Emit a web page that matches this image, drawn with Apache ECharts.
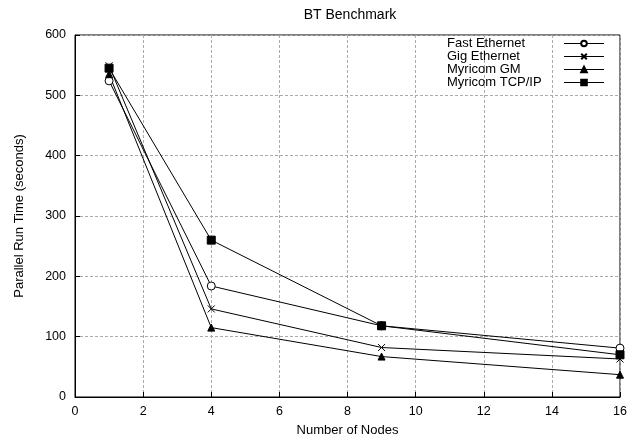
<!DOCTYPE html>
<html><head><meta charset="utf-8">
<script src="https://cdn.jsdelivr.net/npm/echarts@6/dist/echarts.min.js"></script>
<style>html,body{margin:0;padding:0;background:#fff}#c{width:639px;height:442px}</style>
</head><body><div id="c"></div>
<script>
const nodes = [1, 4, 9, 16];
const fastEthernet = [524, 184, 118, 81];
const gigEthernet = [549, 146, 82, 63];
const myricomGM = [535, 115, 67, 37];
const myricomTCP = [545, 260, 118, 70];
const xTicks = [0, 2, 4, 6, 8, 10, 12, 14, 16];
const yTicks = [0, 100, 200, 300, 400, 500, 600];

const FONT = 'Liberation Sans';
const crossPath = 'path://M0,0L10,10M10,0L0,10';
function mk(name, vals, symbol, size, fill) {
  return {
    name, type: 'line', data: nodes.map((n, i) => [n, vals[i]]),
    symbol, symbolSize: size, showAllSymbol: true,
    lineStyle: { color: '#000', width: 1 },
    itemStyle: { color: fill, borderColor: '#000', borderWidth: 1 },
    emphasis: { disabled: true }, animation: false
  };
}
const chart = echarts.init(document.getElementById('c'));
chart.setOption({
  animation: false,
  title: { text: 'BT Benchmark', left: 345, top: 3, textAlign: 'center',
    textStyle: { fontFamily: FONT, fontSize: 14, fontWeight: 'normal', color: '#000' } },
  grid: { left: 75, right: 19, top: 35, bottom: 43, show: true, borderColor: '#000', borderWidth: 1 },
  legend: {
    orient: 'vertical', left: 442, top: 32, align: 'right', itemGap: 0,
    itemWidth: 40, itemHeight: 7,
    lineStyle: { width: 1 },
    formatter: n => '{a|' + n + '}',
    textStyle: { fontFamily: FONT, fontSize: 13, lineHeight: 13, color: '#000', padding: 0,
      rich: { a: { width: 112, align: 'left', fontFamily: FONT, fontSize: 13, lineHeight: 13, color: '#000' } } },
    data: ['Fast Ethernet', 'Gig Ethernet', 'Myricom GM', 'Myricom TCP/IP']
  },
  xAxis: {
    type: 'value', min: xTicks[0], max: xTicks[xTicks.length - 1], interval: 2,
    name: 'Number of Nodes', nameLocation: 'middle', nameGap: 27,
    nameTextStyle: { fontFamily: FONT, fontSize: 13, color: '#000' },
    axisLine: { lineStyle: { color: '#000' } },
    axisTick: { inside: true, length: 5, lineStyle: { color: '#000' } },
    axisLabel: { fontFamily: FONT, fontSize: 12.5, color: '#000', margin: 8 },
    splitLine: { show: true, lineStyle: { color: '#aaa', type: [3, 2], width: 1 } }
  },
  yAxis: {
    type: 'value', min: yTicks[0], max: yTicks[yTicks.length - 1], interval: 100,
    name: 'Parallel Run Time (seconds)', nameLocation: 'middle', nameGap: 49,
    nameTextStyle: { fontFamily: FONT, fontSize: 13, color: '#000' },
    axisLine: { lineStyle: { color: '#000' } },
    axisTick: { inside: true, length: 5, lineStyle: { color: '#000' } },
    axisLabel: { fontFamily: FONT, fontSize: 12.5, color: '#000', margin: 9 },
    splitLine: { show: true, lineStyle: { color: '#aaa', type: [3, 2], width: 1 } }
  },
  series: [
    mk('Fast Ethernet', fastEthernet, 'circle', 8, '#fff'),
    mk('Gig Ethernet', gigEthernet, crossPath, 7, 'none'),
    mk('Myricom GM', myricomGM, 'triangle', 7, '#000'),
    mk('Myricom TCP/IP', myricomTCP, 'rect', 8, '#000')
  ]
});
</script></body></html>
